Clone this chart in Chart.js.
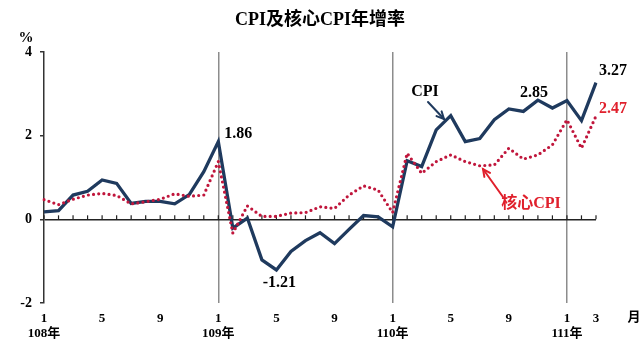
<!DOCTYPE html>
<html>
<head>
<meta charset="utf-8">
<script src="https://cdn.jsdelivr.net/npm/chart.js@4/dist/chart.umd.min.js"></script>
<style>
html,body{margin:0;padding:0;background:#fff;}
canvas{display:block;}
</style>
</head>
<body>
<canvas id="c" width="640" height="360"></canvas>
<script>
// ---- data ----
const months = [1,2,3,4,5,6,7,8,9,10,11,12,
                1,2,3,4,5,6,7,8,9,10,11,12,
                1,2,3,4,5,6,7,8,9,10,11,12,
                1,2,3];
const years = [108,108,108,108,108,108,108,108,108,108,108,108,
               109,109,109,109,109,109,109,109,109,109,109,109,
               110,110,110,110,110,110,110,110,110,110,110,110,
               111,111,111];
const cpi = [0.18,0.21,0.58,0.67,0.94,0.86,0.38,0.43,0.43,0.37,0.59,1.14,
             1.86,-0.21,0.03,-0.97,-1.21,-0.77,-0.51,-0.32,-0.58,-0.24,0.09,0.06,
             -0.18,1.40,1.26,2.14,2.48,1.86,1.93,2.38,2.64,2.58,2.85,2.66,
             2.84,2.36,3.27];
const core = [0.47,0.35,0.48,0.58,0.62,0.57,0.37,0.42,0.48,0.61,0.55,0.58,
              1.38,-0.33,0.32,0.07,0.07,0.15,0.16,0.30,0.26,0.58,0.80,0.70,
              0.16,1.58,1.10,1.38,1.54,1.38,1.28,1.30,1.70,1.44,1.54,1.78,
              2.38,1.70,2.47];
const yTicks = [-2,0,2,4];
const shownMonths = [1,5,9];
const titleText = 'CPI及核心CPI年增率';
const seriesNames = ['CPI','核心CPI'];

const FONT = "'Liberation Serif','Noto Sans CJK TC',serif";
const NAVY = '#1F3A5E';
const RED = '#C0163C';
const LABEL_RED = '#E0202C';

const labels = months.map((m,i)=> years[i] + '/' + m);

function drawArrow(ctx, x1, y1, x2, y2, color){
  ctx.save();
  ctx.strokeStyle = color; ctx.lineWidth = 2; ctx.lineCap='round';
  ctx.beginPath(); ctx.moveTo(x1,y1); ctx.lineTo(x2,y2); ctx.stroke();
  const a = Math.atan2(y2-y1, x2-x1), L = 8;
  ctx.beginPath();
  ctx.moveTo(x2 - L*Math.cos(a-0.45), y2 - L*Math.sin(a-0.45));
  ctx.lineTo(x2,y2);
  ctx.lineTo(x2 - L*Math.cos(a+0.45), y2 - L*Math.sin(a+0.45));
  ctx.stroke();
  ctx.restore();
}

const decor = {
  id:'decor',
  beforeDatasetsDraw(chart){
    const ctx = chart.ctx, xs = chart.scales.x, ys = chart.scales.y;
    const y0 = ys.getPixelForValue(0);
    ctx.save();
    ctx.strokeStyle = '#222'; ctx.lineWidth = 1.2;
    for (let i=0;i<months.length;i++){
      const x = xs.getPixelForValue(i);
      ctx.beginPath(); ctx.moveTo(x,y0); ctx.lineTo(x,y0-4); ctx.stroke();
    }
    ctx.restore();
  },
  afterDraw(chart){
    const ctx = chart.ctx, xs = chart.scales.x, ys = chart.scales.y;
    const px = i => xs.getPixelForValue(i);
    const py = v => ys.getPixelForValue(v);
    ctx.save();
    ctx.textAlign='center'; ctx.textBaseline='middle';
    // title
    ctx.fillStyle='#000';
    ctx.font = 'bold 18px ' + FONT;
    ctx.fillText(titleText, 320, 20);
    // % unit
    ctx.font = 'bold 15px ' + FONT;
    ctx.fillText('%', 26, 38);
    // 月
    ctx.font = 'bold 13px ' + FONT;
    ctx.fillText('月', 634, 318);
    // value labels
    ctx.font = 'bold 16px ' + FONT;
    const iPeak = 12, iLow = 16, iNov = 34, iLast = cpi.length-1;
    ctx.fillText(cpi[iPeak].toFixed(2), px(iPeak)+20, py(cpi[iPeak])-8);
    ctx.fillText(cpi[iLow].toFixed(2), px(iLow)+3, py(cpi[iLow])+13);
    ctx.fillText(cpi[iNov].toFixed(2), px(iNov)-4, py(cpi[iNov])-7);
    ctx.fillText(cpi[iLast].toFixed(2), px(iLast)+17, py(cpi[iLast])-12);
    ctx.fillStyle = LABEL_RED;
    ctx.fillText(core[iLast].toFixed(2), px(iLast)+17, py(core[iLast])-7);
    // series name labels + arrows
    ctx.fillStyle='#000';
    ctx.fillText(seriesNames[0], 425, 92);
    drawArrow(ctx, 428, 102, 444, 119, NAVY);
    ctx.fillStyle = LABEL_RED;
    ctx.fillText(seriesNames[1], 531, 204);
    drawArrow(ctx, 503, 197, 483, 169, LABEL_RED);
    ctx.restore();
  }
};

new Chart(document.getElementById('c'), {
  type:'line',
  data:{
    labels: labels,
    datasets:[
      {label:seriesNames[1], data:core, borderColor:RED, borderWidth:3.2,
       borderDash:[0,5.2], borderCapStyle:'round', pointRadius:0, tension:0, fill:false},
      {label:seriesNames[0], data:cpi, borderColor:NAVY, borderWidth:3.3,
       pointRadius:0, tension:0, fill:false, borderJoinStyle:'miter'}
    ]
  },
  options:{
    responsive:false, animation:false, devicePixelRatio:1,
    layout:{padding:{left:0,right:44,top:52,bottom:0}},
    plugins:{legend:{display:false}, tooltip:{enabled:false}, title:{display:false}},
    scales:{
      x:{
        type:'category', offset:false,
        afterFit(s){ s.height = 57; },
        border:{display:false},
        grid:{drawTicks:false, lineWidth:1.5,
          color:(c)=> (c.index>0 && months[c.index]===1) ? '#8c8c8c' : 'rgba(0,0,0,0)'},
        ticks:{autoSkip:false, maxRotation:0, minRotation:0, padding:8, color:'#000',
          font:{family:FONT, size:13, weight:'bold', lineHeight:1.15},
          callback:(v,i)=>{
            const m = months[i];
            if (m===1) return [String(m), years[i]+'年'];
            if (shownMonths.includes(m) || i===months.length-1) return String(m);
            return '';
          }}
      },
      y:{
        min:-2, max:4,
        afterFit(s){ s.width = 44; },
        afterBuildTicks(s){ s.ticks = yTicks.map(v=>({value:v})); },
        border:{display:true, color:'#333', width:1.5},
        grid:{drawTicks:true, tickLength:4, tickColor:'#333', lineWidth:1.5,
          color:(c)=> (c.tick && c.tick.value===0) ? '#222' : 'rgba(0,0,0,0)'},
        ticks:{padding:8, color:'#000', font:{family:FONT, size:14, weight:'bold'}}
      }
    }
  },
  plugins:[decor]
});
</script>
</body>
</html>
